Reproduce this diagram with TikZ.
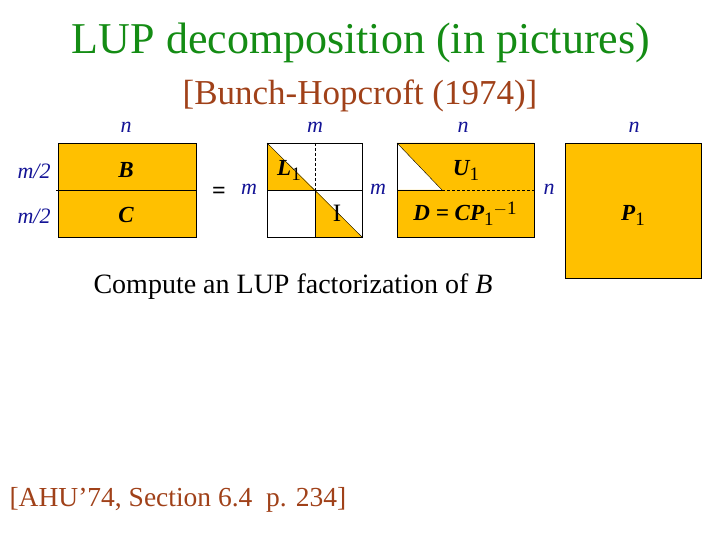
\documentclass[tikz,border=0pt]{standalone}
\usepackage{fontspec}
\setmainfont{Liberation Serif}
\begin{document}
\begin{tikzpicture}[x=1pt,y=-1pt,
  lab/.style={text=lb,font=\fontsize{22}{24}\selectfont\itshape},
  big/.style={font=\fontsize{23}{25}\selectfont\bfseries\itshape}]
\definecolor{og}{RGB}{255,192,0}
\definecolor{tg}{RGB}{20,140,20}
\definecolor{br}{RGB}{160,65,25}
\definecolor{lb}{RGB}{20,20,150}
\newcommand{\sbone}{\raisebox{-5pt}{\upshape\mdseries\fontsize{19}{20}\selectfont 1}}
\useasboundingbox (0,0) rectangle (720,540);
\node[text=tg,font=\fontsize{44}{48}\selectfont] (title) at (361,43) {LUP decomposition (in pictures)};
\node[text=br,font=\fontsize{35}{38}\selectfont] (sub) at (360,96) {[Bunch-Hopcroft (1974)]};
% B C
\draw[fill=og] (58,143) rectangle (196,237);
\draw (56,190) -- (196,190);
\node[big] (B) at (126,170) {B};
\node[big] (C) at (126,215) {C};
\node[lab] (n1) at (126,127) {n};
\node[lab] (m21) at (34,171) {m/2};
\node[lab] (m22) at (34,216) {m/2};
\node[font=\fontsize{24}{26}\selectfont\bfseries] (eq) at (219,193) {=};
\node[lab] (m1) at (249,189) {m};
% L
\fill[og] (267,143) -- (315,190) -- (267,190) -- cycle;
\fill[og] (315,190) -- (362,237) -- (315,237) -- cycle;
\draw (267,143) rectangle (362,237);
\draw (267,190) -- (362,190);
\draw (315,190) -- (315,237);
\draw[densely dashed,very thin] (315,143) -- (315,190);
\draw (267,143) -- (362,237);
\node[lab] (m2) at (315,127) {m};
\node[big] (L1) at (289,170) {L\sbone};
\node[font=\fontsize{25}{26}\selectfont] (I) at (337,213) {I};
% U
\fill[og] (397,143) -- (534,143) -- (534,237) -- (397,237) -- (397,190) -- (442,190) -- cycle;
\draw (397,143) rectangle (534,237);
\draw (397,190) -- (442,190);
\draw[densely dashed,very thin] (442,190) -- (534,190);
\draw (397,143) -- (442,190);
\node[lab] (m3) at (378,189) {m};
\node[lab] (n2) at (463,127) {n};
\node[big] (U1) at (466,170) {U\sbone};
\node[big] (D) at (465,214) {D = CP\sbone\raisebox{6pt}{\upshape\mdseries\fontsize{19}{20}\selectfont $-$1}};
% P
\draw[fill=og] (565,143) rectangle (701,278);
\node[lab] (n3) at (549,189) {n};
\node[lab] (n4) at (634,127) {n};
\node[big] (P1) at (633,215) {P\sbone};
\node[font=\fontsize{28}{30}\selectfont] (comp) at (293,287) {Compute an LUP factorization of \textit{B}};
\node[text=br,font=\fontsize{27.5}{30}\selectfont] (ref) at (178,500) {[AHU'74, Section 6.4\ \ p. 234]};
\end{tikzpicture}
\end{document}
